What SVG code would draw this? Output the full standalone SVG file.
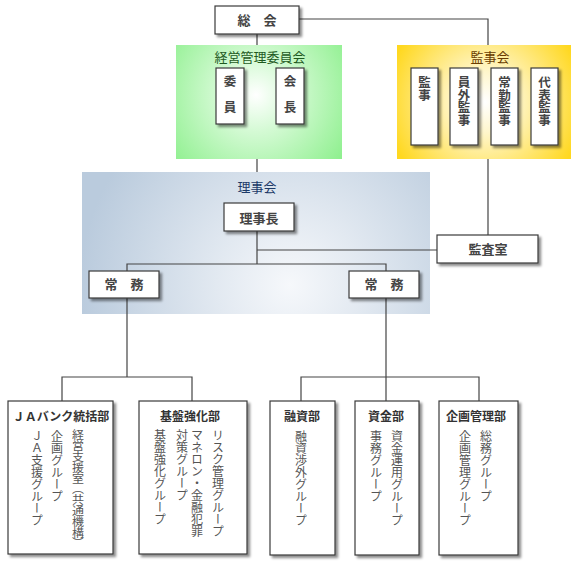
<svg xmlns="http://www.w3.org/2000/svg" width="574" height="564" viewBox="0 0 574 564">
<defs>
<filter id="sh" x="-20%" y="-20%" width="140%" height="140%">
<feDropShadow dx="2.5" dy="2.5" stdDeviation="1.2" flood-color="#000" flood-opacity="0.45"/>
</filter>
<radialGradient id="gGreen" gradientUnits="userSpaceOnUse" cx="256" cy="95" r="105">
<stop offset="0" stop-color="#ffffff"/>
<stop offset="0.35" stop-color="#d4fad4"/>
<stop offset="1" stop-color="#90f090"/>
</radialGradient>
<radialGradient id="gYellow" gradientUnits="userSpaceOnUse" cx="485" cy="102" r="100">
<stop offset="0" stop-color="#ffffff"/>
<stop offset="0.3" stop-color="#fff6cc"/>
<stop offset="1" stop-color="#ffd820"/>
</radialGradient>
<radialGradient id="gBlue" gradientUnits="userSpaceOnUse" cx="290" cy="285" r="210">
<stop offset="0" stop-color="#f6f8fb"/>
<stop offset="0.35" stop-color="#e2e9f1"/>
<stop offset="1" stop-color="#bacbdd"/>
</radialGradient>
<style>
.box{fill:#fff;stroke:#3a3a3a;stroke-width:1.2;filter:url(#sh)}
.lbl{font-family:"Noto Sans CJK JP","Noto Sans CJK SC",sans-serif;font-weight:bold;font-size:13px;fill:#444;text-anchor:middle}
.vl{font-family:"Noto Sans CJK JP","Noto Sans CJK SC",sans-serif;font-weight:bold;font-size:12.5px;fill:#444;writing-mode:vertical-rl}
.ttl{font-family:"Noto Sans CJK JP","Noto Sans CJK SC",sans-serif;font-weight:bold;font-size:12px;fill:#333;text-anchor:middle}
.col{font-family:"Noto Sans CJK JP","Noto Sans CJK SC",sans-serif;font-size:12px;fill:#555;writing-mode:vertical-rl}
.ptl{font-family:"Noto Sans CJK JP","Noto Sans CJK SC",sans-serif;font-size:13px;text-anchor:middle}
.cn{fill:none;stroke:#444;stroke-width:1.2}
</style>
</defs>
<rect width="574" height="564" fill="#fff"/>

<g id="panel-keiei">
<rect x="176" y="45" width="166" height="114" fill="url(#gGreen)"/>
<text class="ptl" x="260" y="62" fill="#1e5a1e">経営管理委員会</text>
</g>
<g id="panel-kanji">
<rect x="397" y="45" width="174" height="114" fill="url(#gYellow)"/>
<text class="ptl" x="490" y="62" fill="#6a3c00">監事会</text>
</g>
<g id="panel-riji">
<rect x="82" y="172" width="348" height="142" fill="url(#gBlue)"/>
<text class="ptl" x="257" y="192" fill="#1c3a68">理事会</text>
</g>

<g id="connectors">
<path class="cn" d="M299,19 H488 V45"/>
<path class="cn" d="M257,34 V45"/>
<path class="cn" d="M257,159 V172"/>
<path class="cn" d="M488,159 V235"/>
<path class="cn" d="M257,231 V264"/>
<path class="cn" d="M257,250 H437"/>
<path class="cn" d="M127,271 V264 H386 V271"/>
<path class="cn" d="M127,298 V377"/>
<path class="cn" d="M62,401 V377 H192 V401"/>
<path class="cn" d="M386,298 V401"/>
<path class="cn" d="M301,401 V377 H479 V401"/>
</g>

<g id="soukai">
<rect class="box" x="215" y="6" width="84" height="28"/>
<text class="lbl" x="257" y="25">総　会</text>
</g>
<g id="iin">
<rect class="box" x="216" y="68" width="28" height="56"/>
<text class="vl" x="230" y="75" letter-spacing="13">委員</text>
</g>
<g id="kaichou">
<rect class="box" x="276" y="68" width="28" height="56"/>
<text class="vl" x="290" y="75" letter-spacing="13">会長</text>
</g>
<g id="kanji">
<rect class="box" x="411" y="68" width="27" height="77"/>
<text class="vl" x="424.5" y="76">監事</text>
</g>
<g id="ingai-kanji">
<rect class="box" x="450" y="68" width="28" height="77"/>
<text class="vl" x="464" y="76">員外監事</text>
</g>
<g id="joukin-kanji">
<rect class="box" x="491" y="68" width="27" height="77"/>
<text class="vl" x="504.5" y="76">常勤監事</text>
</g>
<g id="daihyou-kanji">
<rect class="box" x="531" y="68" width="27" height="77"/>
<text class="vl" x="544.5" y="76">代表監事</text>
</g>
<g id="rijichou">
<rect class="box" x="224" y="203" width="70" height="28"/>
<text class="lbl" x="259" y="223">理事長</text>
</g>
<g id="kansashitsu">
<rect class="box" x="437" y="235" width="101" height="28"/>
<text class="lbl" x="488" y="254">監査室</text>
</g>
<g id="joumu-left">
<rect class="box" x="89" y="271" width="70" height="27"/>
<text class="lbl" x="124" y="289">常　務</text>
</g>
<g id="joumu-right">
<rect class="box" x="349" y="271" width="70" height="27"/>
<text class="lbl" x="384" y="289">常　務</text>
</g>

<g id="ja-bank">
<rect class="box" x="8" y="401" width="105" height="153"/>
<text class="ttl" x="61" y="421">ＪＡバンク統括部</text>
<text class="col" transform="translate(78,430) scale(1,0.9)" x="0" y="0">経営支援室（共通機構）</text>
<text class="col" x="57" y="430">企画グループ</text>
<text class="col" x="37" y="430">ＪＡ支援グループ</text>
</g>
<g id="kiban">
<rect class="box" x="139" y="401" width="108" height="153"/>
<text class="ttl" x="190" y="421">基盤強化部</text>
<text class="col" x="218" y="429">リスク管理グループ</text>
<text class="col" x="197" y="429">マネロン・金融犯罪</text>
<text class="col" x="182" y="429">対策グループ</text>
<text class="col" x="160" y="429">基盤強化グループ</text>
</g>
<g id="yushi">
<rect class="box" x="270" y="401" width="65" height="154"/>
<text class="ttl" x="302" y="421">融資部</text>
<text class="col" x="301" y="430">融資渉外グループ</text>
</g>
<g id="shikin">
<rect class="box" x="355" y="401" width="64" height="154"/>
<text class="ttl" x="386" y="421">資金部</text>
<text class="col" x="397" y="430">資金運用グループ</text>
<text class="col" x="376" y="430">事務グループ</text>
</g>
<g id="kikaku">
<rect class="box" x="439" y="401" width="79" height="154"/>
<text class="ttl" x="476" y="421">企画管理部</text>
<text class="col" x="486" y="430">総務グループ</text>
<text class="col" x="465" y="430">企画管理グループ</text>
</g>
</svg>
